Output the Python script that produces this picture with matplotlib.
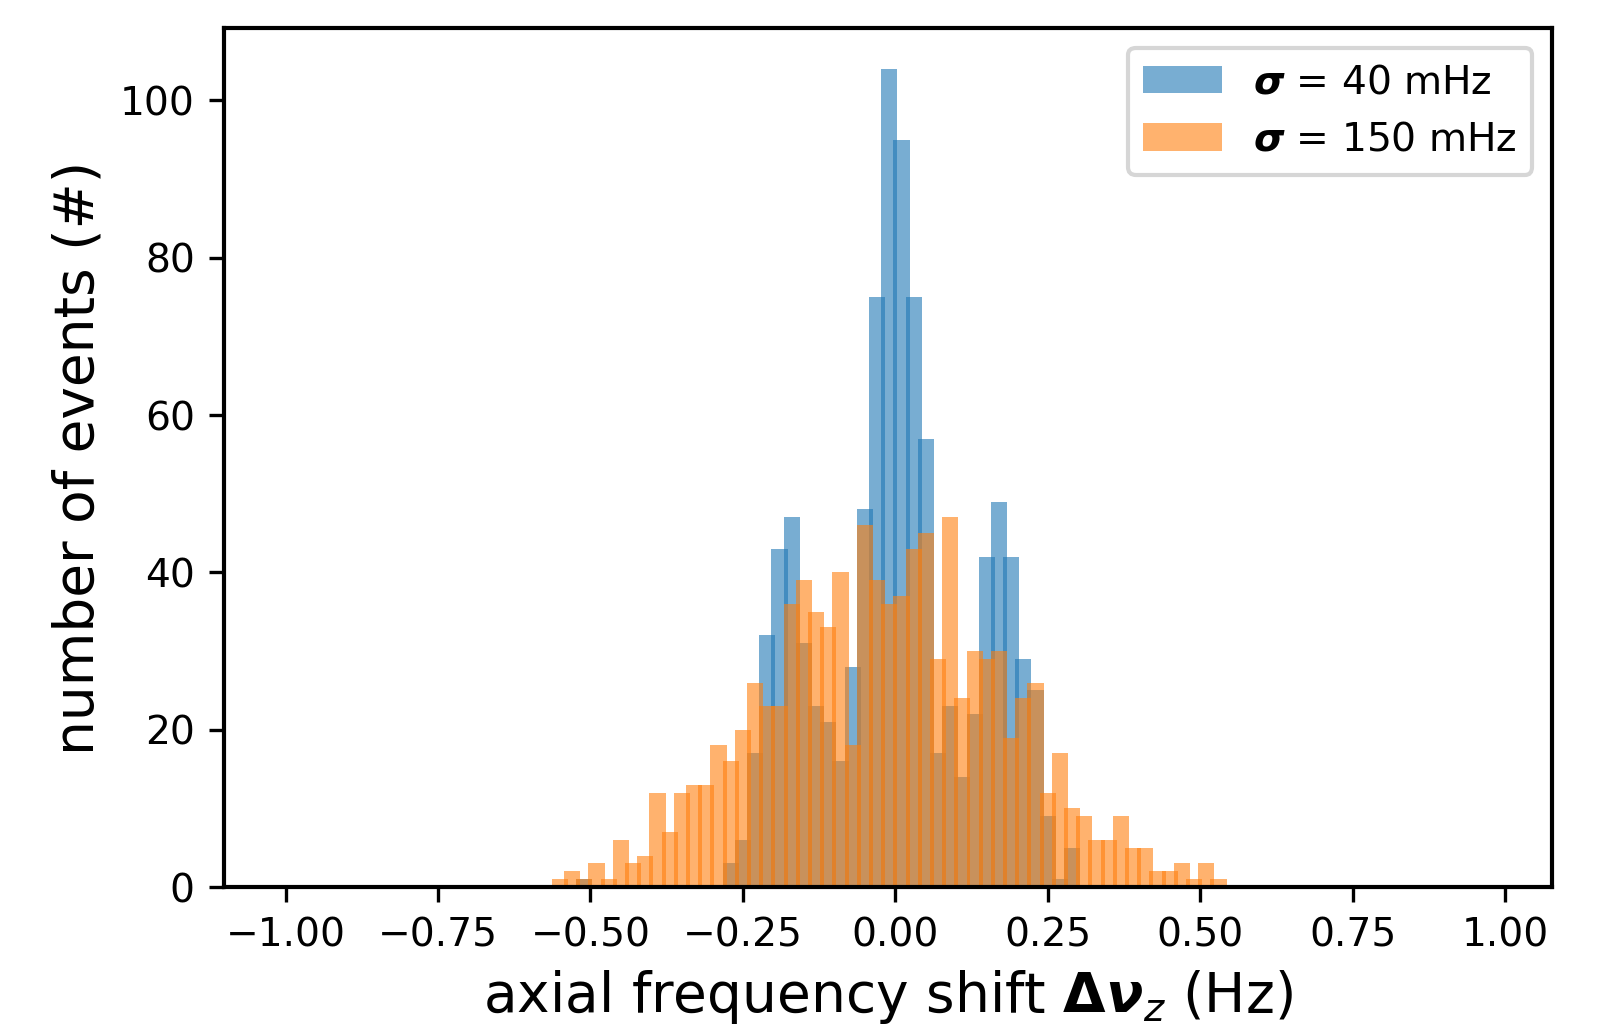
import numpy as np
import matplotlib
matplotlib.use("Agg")
import matplotlib.pyplot as plt

# bin edges of the histogram (Hz), 0.02 Hz wide, -1.00 ... 0.98
edges = np.round(np.arange(-1.0, 0.99, 0.02), 2)
first_bin = -0.56   # counts below start here, everything else is empty

# number of events per bin, starting at -0.56 Hz
counts_40mHz = [0, 0, 1, 0, 0, 0, 0, 0, 0, 0,
                0, 0, 0, 0, 3, 6, 17, 32, 43, 47,
                31, 23, 21, 16, 28, 48, 75, 104, 95, 75,
                57, 17, 23, 14, 22, 42, 49, 42, 29, 25,
                9, 1, 5, 0, 0, 0, 0, 0, 0, 0,
                0, 0, 0, 0, 0]
counts_150mHz = [1, 2, 1, 3, 1, 6, 3, 4, 12, 7,
                 12, 13, 13, 18, 16, 20, 26, 23, 23, 36,
                 39, 35, 33, 40, 18, 46, 39, 36, 37, 43,
                 45, 29, 47, 24, 30, 29, 30, 19, 24, 26,
                 12, 17, 10, 9, 6, 6, 9, 5, 5, 2,
                 2, 3, 1, 3, 1]

labels = [r'$\mathbfit{\sigma}$ = 40 mHz', r'$\mathbfit{\sigma}$ = 150 mHz']

nbins = len(edges) - 1
start = int(round((first_bin - edges[0]) / 0.02))
centers = (edges[:-1] + edges[1:]) / 2


def full(c):
    out = np.zeros(nbins)
    out[start:start + len(c)] = c
    return out


fig = plt.figure(figsize=(16.14 / 3, 10.27 / 3), dpi=300)
ax = fig.add_axes([0.1388, 0.1363, 0.8228, 0.8364])

# bars a bit wider than the bin so neighbours overlap slightly
w = 0.0265
ax.bar(centers, full(counts_40mHz), width=w, color='C0', alpha=0.6, label=labels[0])
ax.bar(centers, full(counts_150mHz), width=w, color='C1', alpha=0.6, label=labels[1])

ax.set_xlim(-1.101, 1.077)
ax.set_ylim(0, 109.2)
ax.set_xticks([-1.0, -0.75, -0.5, -0.25, 0.0, 0.25, 0.5, 0.75, 1.0])
ax.set_yticks([0, 20, 40, 60, 80, 100])
ax.tick_params(labelsize=9.4, width=0.8, length=3.5)
for s in ax.spines.values():
    s.set_linewidth(1.0)

ax.set_xlabel(r'axial frequency shift $\mathbf{\Delta}\mathbfit{\nu}_z$ (Hz)', fontsize=13.2, labelpad=3.3)
ax.set_ylabel('number of events (#)', fontsize=13.2, labelpad=3.5)
ax.legend(loc='upper right', fontsize=9.4)

fig.savefig('out.png', dpi=300)
